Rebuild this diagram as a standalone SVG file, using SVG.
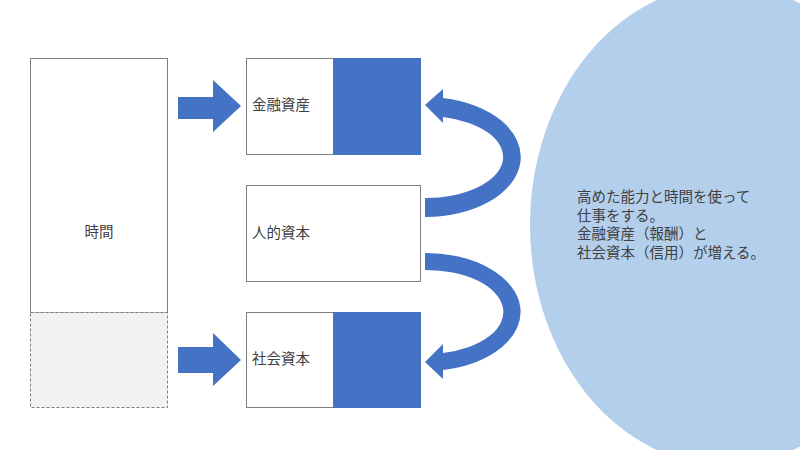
<svg xmlns="http://www.w3.org/2000/svg" width="800" height="450" viewBox="0 0 800 450">
<style>
.box{fill:#ffffff;stroke:#7f7f7f;stroke-width:1}
.blue{fill:#4472C4}
.lbl{font-family:"Noto Sans CJK JP","Noto Sans",sans-serif;font-size:14.5px;fill:#404040}
</style>
<rect width="800" height="450" fill="#ffffff"/>
<g id="bubble">
<ellipse cx="725" cy="225" rx="195" ry="240" fill="#B4CFEB"/>
<text class="lbl" x="577" y="202">高めた能力と時間を使って</text>
<text class="lbl" x="577" y="220.5">仕事をする。</text>
<text class="lbl" x="577" y="239">金融資産（報酬）と</text>
<text class="lbl" x="577" y="257.5">社会資本（信用）が増える。</text>
</g>
<g id="time">
<rect x="30.5" y="58.5" width="137" height="254" class="box"/>
<rect x="30.5" y="312.5" width="137" height="95" fill="#f2f2f2" stroke="#7f7f7f" stroke-width="1" stroke-dasharray="3,2"/>
<text class="lbl" x="99" y="237" text-anchor="middle">時間</text>
</g>
<g id="financial">
<rect x="246.5" y="58.5" width="87" height="96" class="box"/>
<rect x="333" y="58" width="88" height="97" class="blue"/>
<text class="lbl" x="252" y="110">金融資産</text>
</g>
<g id="human">
<rect x="246.5" y="185.5" width="174" height="96" class="box"/>
<text class="lbl" x="252" y="238">人的資本</text>
</g>
<g id="social">
<rect x="246.5" y="312.5" width="87" height="95" class="box"/>
<rect x="333" y="312" width="88" height="96" class="blue"/>
<text class="lbl" x="252" y="364">社会資本</text>
</g>
<g id="connectors" class="blue">
<polygon points="178,97 213,97 213,80 241,106 213,132 213,119 178,119"/>
<polygon points="178,347 213,347 213,333 241,360 213,386 213,373 178,373"/>
<path d="M 425 217 A 95 60 0 0 0 443 98 L 443 89 L 425 105 L 443 123 L 443 117 A 77 41 0 0 1 425 198 Z"/>
<path d="M 425 253 A 95 59 0 0 1 443 370 L 443 379 L 425 362 L 443 344 L 443 353 A 77 42 0 0 0 425 270 Z"/>
</g>
</svg>
